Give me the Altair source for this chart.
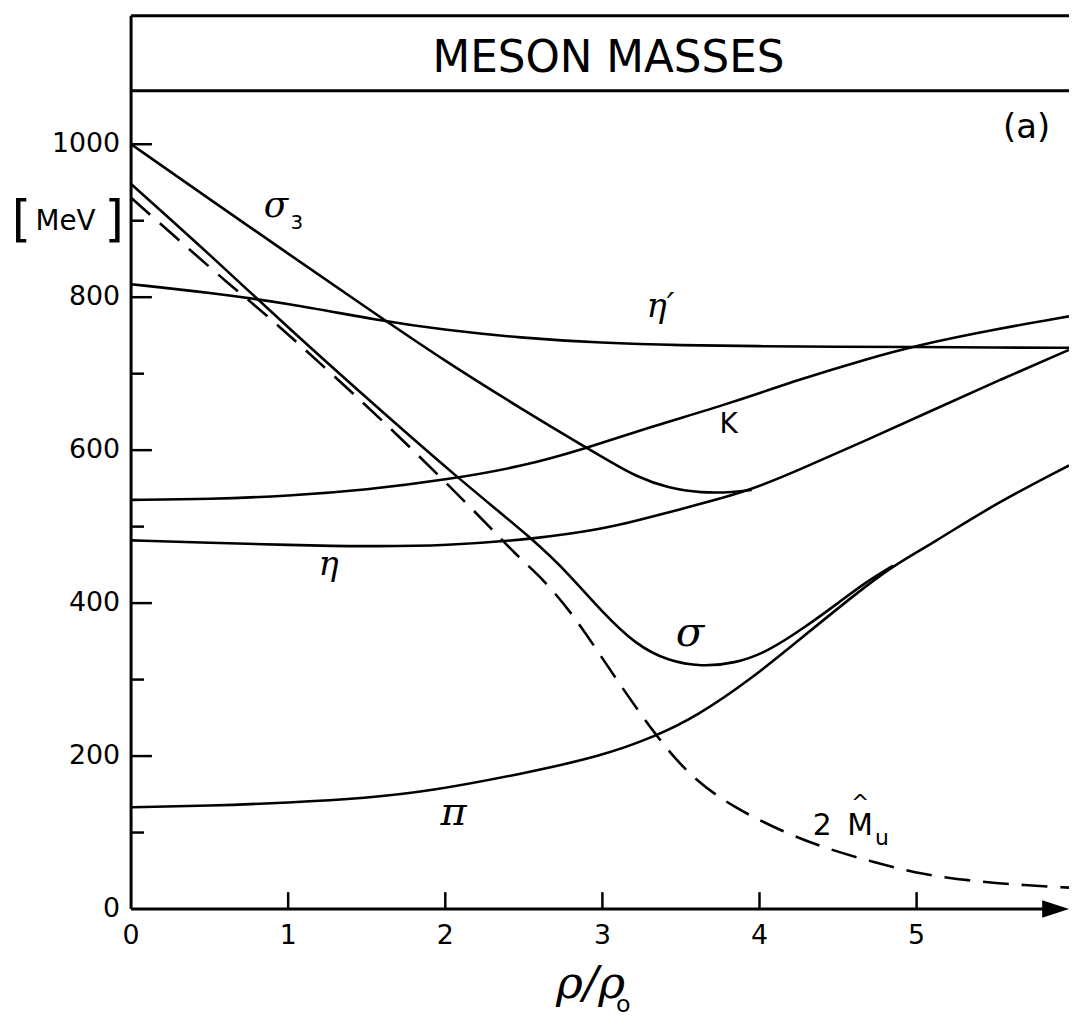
import altair as alt
import pandas as pd

# ---------------- data ----------------
# density rho/rho0 and masses in MeV
sigma3_x = [0, 0.5, 1.0, 1.5, 2.0, 2.5, 2.89, 3.05, 3.21, 3.42, 3.63, 3.84, 3.95]
sigma3_y = [1000, 928, 857, 786, 716, 652, 604, 585, 566, 550, 544, 545, 548]

etap_x = [0, 0.5, 1.0, 1.59, 2.0, 2.47, 3.0, 3.5, 4.0, 4.5, 5.0, 5.5, 5.97]
etap_y = [817, 806, 792, 769, 757, 747, 740, 737, 736, 735, 735, 734, 734]

kaon_x = [0, 0.5, 1.0, 1.5, 2.0, 2.5, 2.89, 3.3, 3.81, 4.26, 4.68, 5.0, 5.5, 5.97]
kaon_y = [535, 536, 540, 548, 561, 579, 602, 630, 661, 693, 719, 737, 758, 775]

eta_x = [0, 0.5, 1.0, 1.5, 2.0, 2.58, 3.0, 3.21, 3.63, 3.95, 4.26, 4.68, 5.1, 5.53, 5.97]
eta_y = [482, 479, 476, 474, 475, 484, 497, 507, 530, 548, 575, 613, 652, 692, 731]

sigma_x = [0, 0.5, 1.0, 1.5, 2.07, 2.58, 2.79, 3.0, 3.21, 3.42, 3.63, 3.84, 4.05, 4.3, 4.5, 4.68, 4.85]
sigma_y = [948, 856, 760, 668, 565, 480, 437, 388, 346, 324, 317, 321, 336, 370, 400, 428, 449]

pion_x = [0, 0.5, 1.0, 1.5, 1.9, 2.47, 3.0, 3.34, 3.6, 3.95, 4.3, 4.6, 4.85, 5.1, 5.5, 5.97]
pion_y = [133, 135, 139, 145, 154, 176, 200, 226, 252, 301, 360, 410, 449, 478, 530, 580]

mu_x = [0, 0.28, 0.64, 0.85, 1.17, 1.69, 2.26, 2.45, 2.58, 2.8, 3.04, 3.34, 3.57, 3.84,
        4.16, 4.41, 4.73, 5.04, 5.38, 5.69, 5.97]
mu_y = [930, 879, 814, 779, 720, 622, 505, 463, 440, 390, 315, 226, 171, 132,
        100, 80, 61, 45, 36, 31, 28]

x_tick_labels = [0, 1, 2, 3, 4, 5]
y_tick_labels = [0, 200, 400, 600, 800, 1000]
y_major_ticks = [200, 400, 600, 800, 1000]
y_minor_ticks = [100, 300, 500, 700, 900]
x_ticks = [1, 2, 3, 4, 5]
title_rule_y = [1070]

XMAX, YMAX = 5.97, 1168
W, H = 945, 900

xs = alt.Scale(domain=[0, XMAX], nice=False, zero=False)
ys = alt.Scale(domain=[0, YMAX], nice=False, zero=False)


def series(name, xv, yv):
    return pd.DataFrame({"x": xv, "y": yv, "s": name})


solid_df = pd.concat([
    series("sigma3", sigma3_x, sigma3_y),
    series("etaprime", etap_x, etap_y),
    series("K", kaon_x, kaon_y),
    series("eta", eta_x, eta_y),
    series("sigma", sigma_x, sigma_y),
    series("pi", pion_x, pion_y),
], ignore_index=True)
mu_df = series("2Mu", mu_x, mu_y)

solid = alt.Chart(solid_df).mark_line(
    color="black", strokeWidth=2.6, interpolate="basis"
).encode(
    x=alt.X("x:Q", scale=xs, axis=None),
    y=alt.Y("y:Q", scale=ys, axis=None),
    detail="s:N",
)

dashed = alt.Chart(mu_df).mark_line(
    color="black", strokeWidth=2.6, strokeDash=[26, 13], interpolate="basis"
).encode(
    x=alt.X("x:Q", scale=xs, axis=None),
    y=alt.Y("y:Q", scale=ys, axis=None),
)

# tick labels drawn through the scales
ylab = alt.Chart(pd.DataFrame({"v": y_tick_labels})).mark_text(
    font="DejaVu Sans", fontSize=27, align="right", baseline="middle", color="black"
).encode(
    y=alt.Y("v:Q", scale=ys, axis=None), x=alt.value(-11), text=alt.Text("v:Q", format="d"))
xlab = alt.Chart(pd.DataFrame({"v": x_tick_labels})).mark_text(
    font="DejaVu Sans", fontSize=27, align="center", baseline="middle", color="black"
).encode(
    x=alt.X("v:Q", scale=xs, axis=None), y=alt.value(H + 27), text=alt.Text("v:Q", format="d"))

# frame and axes lines
axis_style = dict(color="black", strokeWidth=3)
yaxis_line = alt.Chart(pd.DataFrame({"a": [0]})).mark_rule(**axis_style).encode(
    x=alt.value(0), y=alt.value(0), y2=alt.value(H))
xaxis_line = alt.Chart(pd.DataFrame({"a": [0]})).mark_rule(**axis_style).encode(
    x=alt.value(0), x2=alt.value(W - 12), y=alt.value(H))
top_line = alt.Chart(pd.DataFrame({"a": [0]})).mark_rule(**axis_style).encode(
    x=alt.value(0), x2=alt.value(W), y=alt.value(0))
title_line = alt.Chart(pd.DataFrame({"y": title_rule_y})).mark_rule(**axis_style).encode(
    x=alt.value(0), x2=alt.value(W), y=alt.Y("y:Q", scale=ys, axis=None))
arrow = alt.Chart(pd.DataFrame({"a": [0]})).mark_point(
    shape="M-1,-0.65L1,0L-1,0.65Z", filled=True, size=729, color="black", opacity=1
).encode(x=alt.value(W - 13.5), y=alt.value(H))

ymaj = alt.Chart(pd.DataFrame({"v": y_major_ticks})).mark_rule(color="black", strokeWidth=2.5).encode(
    y=alt.Y("v:Q", scale=ys, axis=None), x=alt.value(0), x2=alt.value(21))
ymin = alt.Chart(pd.DataFrame({"v": y_minor_ticks})).mark_rule(color="black", strokeWidth=2.5).encode(
    y=alt.Y("v:Q", scale=ys, axis=None), x=alt.value(0), x2=alt.value(13))
xtk = alt.Chart(pd.DataFrame({"v": x_ticks})).mark_rule(color="black", strokeWidth=2.5).encode(
    x=alt.X("v:Q", scale=xs, axis=None), y=alt.value(H), y2=alt.value(H - 17))


def label(text, x, y, size, font="DejaVu Serif", style="italic", align="center"):
    df = pd.DataFrame({"x": [x], "y": [y], "t": [text]})
    return alt.Chart(df).mark_text(
        font=font, fontSize=size, fontStyle=style, align=align, baseline="alphabetic", color="black"
    ).encode(
        x=alt.X("x:Q", scale=xs, axis=None),
        y=alt.Y("y:Q", scale=ys, axis=None),
        text="t:N",
    )


labels = [
    label("MESON MASSES", 3.039, 1095, 44, font="DejaVu Sans", style="normal"),
    label("(a)", 5.70, 1008, 34, font="DejaVu Sans", style="normal"),
    label("σ", 0.922, 905, 36),
    label("3", 1.055, 889, 20, font="DejaVu Sans", style="normal"),
    label("η′", 3.37, 774, 34),
    label("K", 3.803, 622, 28, font="DejaVu Sans", style="normal"),
    label("η", 1.257, 437, 34),
    label("σ", 3.557, 344, 42),
    label("π", 2.053, 110, 40),
    label("2", 4.40, 97, 30, font="DejaVu Sans", style="normal"),
    label("M", 4.64, 97, 30, font="DejaVu Sans", style="normal"),
    label("^", 4.64, 130, 22, font="DejaVu Sans", style="normal"),
    label("u", 4.78, 84, 22, font="DejaVu Sans", style="normal"),
    label("[", -0.698, 880, 50, font="DejaVu Sans", style="normal"),
    label("MeV", -0.417, 888, 28, font="DejaVu Sans", style="normal"),
    label("]", -0.107, 880, 50, font="DejaVu Sans", style="normal"),
    label("ρ/ρ", 2.925, -116, 46),
    label("o", 3.133, -134, 24, font="DejaVu Sans", style="normal"),
]

chart = alt.layer(
    solid, dashed, yaxis_line, xaxis_line, top_line, title_line, arrow, ymaj, ymin, xtk,
    ylab, xlab, *labels
).properties(
    width=W, height=H,
    padding={"left": 124, "top": 4, "right": 0, "bottom": 108},
    autosize=alt.AutoSizeParams(type="none"),
    background="white",
).configure_view(stroke=None)

chart.save("out.html", embed_options={"renderer": "svg", "actions": False})
